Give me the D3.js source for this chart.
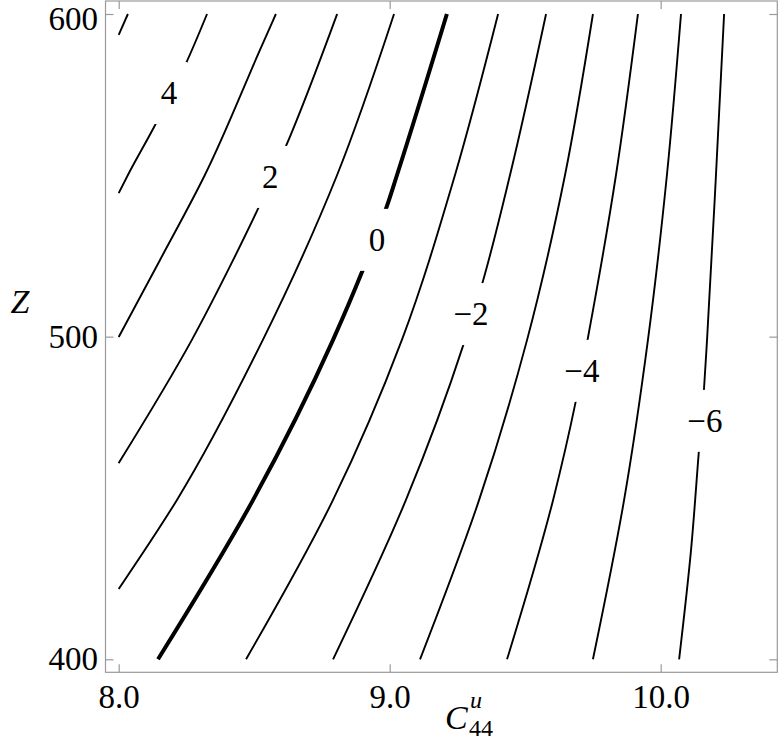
<!doctype html>
<html>
	<head>
		<meta charset="utf-8">
		<style type="text/css">
			body { margin: 0; background: #fff; }
			svg text { font-family: "Liberation Serif", "DejaVu Serif", serif; fill: #000; }
		</style>
		<script src="https://d3js.org/d3.v7.min.js"></script>
	</head>
	<body>
		<svg width="781" height="744"></svg>
		<script type="text/javascript">

			// axis ticks
			var c44Ticks = [8.0, 9.0, 10.0];
			var zTicks = [400, 500, 600];

			// contour levels, and each contour as [C44, Z] pairs (low Z first)
			var contourLevels = [5, 4, 3, 2, 1, 0, -1, -2, -3, -4, -5, -6];
			var contourP5 = [[8.0, 593.5], [8.034, 600]];
			var contourP4 = [[8.0, 544.5], [8.034, 550.1], [8.130, 564.9], [8.245, 584.1], [8.326, 600]];
			var contourP3 = [[8.0, 499.9], [8.152, 523.7], [8.318, 550.1], [8.521, 588.8], [8.580, 600]];
			var contourP2 = [[8.0, 460.8], [8.270, 499.0], [8.422, 523.7], [8.510, 538.9], [8.614, 558.4], [8.806, 600]];
			var contourP1 = [[8.0, 421.8], [8.215, 449.4], [8.532, 499.0], [8.806, 550.1], [9.016, 600]];
			var contourZero = [[8.145, 400], [8.496, 449.4], [8.791, 499.0], [8.901, 520.7], [8.990, 540.5], [9.027, 550.1], [9.211, 600]];
			var contourM1 = [[8.470, 400], [8.791, 449.4], [9.045, 499.0], [9.241, 550.1], [9.400, 600]];
			var contourM2 = [[8.791, 400], [9.060, 449.4], [9.274, 498.0], [9.344, 517.2], [9.444, 550.1], [9.577, 600]];
			var contourM3 = [[9.112, 400], [9.330, 449.4], [9.507, 499.0], [9.647, 550.1], [9.750, 600]];
			var contourM4 = [[9.433, 400], [9.603, 449.4], [9.687, 480.1], [9.732, 499.9], [9.835, 550.1], [9.916, 600]];
			var contourM5 = [[9.750, 400], [9.865, 449.4], [9.953, 499.0], [10.023, 550.1], [10.075, 600]];
			var contourM6 = [[10.068, 400], [10.112, 433.9], [10.141, 464.6], [10.160, 484.1], [10.171, 499.0], [10.204, 550.1], [10.234, 600]];

			// contour labels
			var labelText = ["4", "2", "0", "\u22122", "\u22124", "\u22126"];
			var labelC44 = [8.186, 8.559, 8.953, 9.300, 9.709, 10.163];
			var labelZ = [575.5, 549.5, 530.0, 507.0, 489.4, 473.9];

			var contourPoints = [contourP5, contourP4, contourP3, contourP2, contourP1, contourZero,
				contourM1, contourM2, contourM3, contourM4, contourM5, contourM6];
			var contours = contourLevels.map(function(lv, i) { return { level: lv, points: contourPoints[i] }; });

			var svg = d3.select("svg");
			var plot = { left: 105.5, right: 777.3, top: 1, bottom: 672.3 };

			var x = d3.scaleLinear().domain([7.9513, 10.4303]).range([plot.left, plot.right]);
			var y = d3.scaleLinear().domain([395.97, 604.03]).range([plot.bottom, plot.top]);

			var frameColor = "#9a9a9a";

			// contour lines
			var line = d3.line()
				.x(function(d) { return x(d[0]); })
				.y(function(d) { return y(d[1]); })
				.curve(d3.curveMonotoneY);

			svg.append("g")
				.attr("class", "contours")
				.selectAll("path")
				.data(contours)
				.enter()
					.append("path")
					.attr("d", function(d) { return line(d.points); })
					.style("fill", "none")
					.style("stroke", "#000")
					.style("stroke-width", function(d) { return d.level === 0 ? 4 : 1.9; })
					.style("stroke-linecap", "butt");

			// contour labels, with a white box cutting the line behind them
			var labels = svg.append("g")
				.attr("class", "contour-labels")
				.selectAll("g")
				.data(labelText.map(function(t, i) { return { text: t, c: labelC44[i], z: labelZ[i] }; }))
				.enter()
					.append("g")
					.attr("transform", function(d) { return "translate(" + x(d.c) + "," + y(d.z) + ")"; });

			labels.append("rect").style("fill", "#fff");
			labels.append("text")
				.text(function(d) { return d.text; })
				.attr("dy", "0.34em")
				.style("text-anchor", "middle")
				.style("font-size", "33px");
			labels.each(function() {
				var g = d3.select(this);
				var w = Math.max(g.select("text").node().getBBox().width + 12, 36);
				g.select("rect").attr("x", -w / 2).attr("y", -31).attr("width", w).attr("height", 62);
			});

			// frame
			svg.append("rect")
				.attr("x", plot.left)
				.attr("y", plot.top)
				.attr("width", plot.right - plot.left)
				.attr("height", plot.bottom - plot.top)
				.style("fill", "none")
				.style("stroke", frameColor)
				.style("stroke-width", 1.2);

			function styleAxis(g) {
				g.select(".domain").remove();
				g.selectAll(".tick line").style("stroke", frameColor).style("stroke-width", 1.2);
				g.selectAll(".tick text").style("font-size", "33px").style("fill", "#000");
				g.attr("font-family", null).attr("font-size", null);
			}

			svg.append("g")
				.attr("transform", "translate(0," + plot.bottom + ")")
				.call(d3.axisBottom(x).tickValues(c44Ticks).tickFormat(d3.format(".1f"))
					.tickSizeInner(-8).tickSizeOuter(0).tickPadding(12.5))
				.call(styleAxis);

			svg.append("g")
				.attr("transform", "translate(0," + plot.top + ")")
				.call(d3.axisTop(x).tickValues(c44Ticks).tickFormat("")
					.tickSizeInner(-8).tickSizeOuter(0))
				.call(styleAxis);

			var yAxis = svg.append("g")
				.attr("transform", "translate(" + plot.left + ",0)")
				.call(d3.axisLeft(y).tickValues(zTicks).tickFormat(d3.format("d"))
					.tickSizeInner(-8).tickSizeOuter(0).tickPadding(7.5))
				.call(styleAxis);

			// keep the top label inside the picture
			yAxis.selectAll(".tick text").attr("y", function(d) { return Math.max(0, 19 - y(d)); });

			svg.append("g")
				.attr("transform", "translate(" + plot.right + ",0)")
				.call(d3.axisRight(y).tickValues(zTicks).tickFormat("")
					.tickSizeInner(-8).tickSizeOuter(0))
				.call(styleAxis);

			// axis titles
			svg.append("text")
				.attr("x", 20)
				.attr("y", 313)
				.style("text-anchor", "middle")
				.style("font-style", "italic")
				.style("font-size", "34px")
				.text("Z");

			var xt = svg.append("text").attr("y", 729);
			xt.append("tspan")
				.attr("x", 445)
				.style("font-style", "italic")
				.style("font-size", "34px")
				.text("C");
			xt.append("tspan")
				.attr("x", 470)
				.attr("y", 708)
				.style("font-style", "italic")
				.style("font-size", "24px")
				.text("u");
			xt.append("tspan")
				.attr("x", 469)
				.attr("y", 736)
				.style("font-size", "24px")
				.text("44");
		</script>
	</body>
</html>
